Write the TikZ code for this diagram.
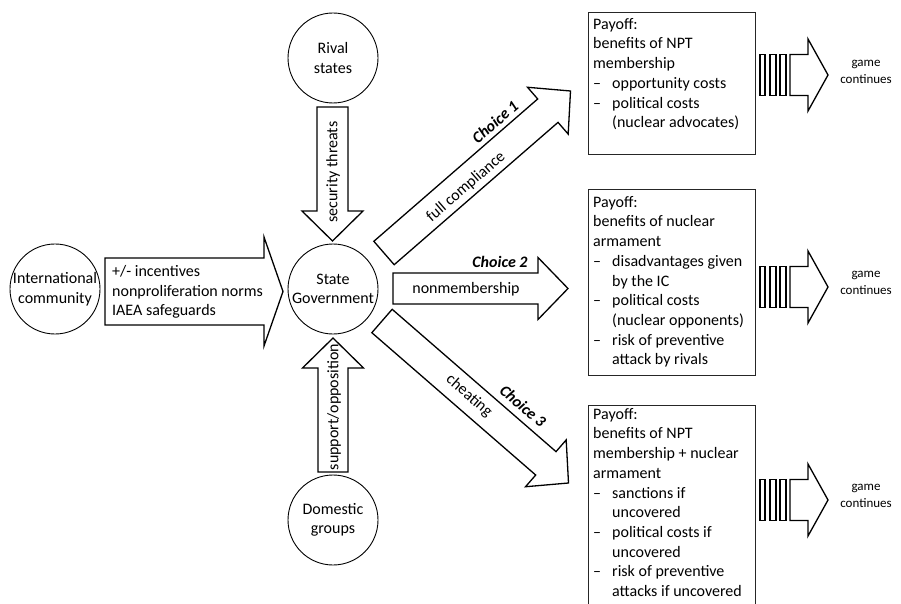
\documentclass[tikz,border=0pt]{standalone}
\usepackage{fontspec}
\setmainfont{Carlito}
\usetikzlibrary{calc}
\tikzset{
  circ/.style={circle, draw, line width=0.9pt, minimum size=90pt, inner sep=0pt, align=center, font=\fontsize{16}{19.5}\selectfont},
  barrow/.style={draw, line width=1.3pt, fill=white, line join=miter},
  bar/.style={draw, line width=1.1pt},
  lbl/.style={font=\fontsize{16}{19.5}\selectfont, inner sep=0pt},
  chc/.style={font=\fontsize{16}{19.5}\selectfont\bfseries\itshape, inner sep=0pt},
  boxline/.style={draw, line width=0.9pt, draw=black!85},
  boxtext/.style={font=\fontsize{16}{19.7}\selectfont, inner sep=0pt, align=left, anchor=north west},
  gc/.style={font=\fontsize{13}{17}\selectfont, inner sep=0pt, align=center},
}
\newcommand\blockarr[5]{%
  \coordinate (#1-#2-h) at ($(#2)!#5!(#1)$);
  \draw[barrow] ($(#1)!#3!90:(#2)$) -- ($(#1-#2-h)!#3!90:(#2)$) -- ($(#1-#2-h)!#4!90:(#2)$) -- (#2) -- ($(#1-#2-h)!#4!-90:(#2)$) -- ($(#1-#2-h)!#3!-90:(#2)$) -- ($(#1)!#3!-90:(#2)$) -- cycle;}
\newcommand\dsh{\makebox[19pt][l]{–}}
\newcommand\ind{\hspace*{19pt}}
\newcommand\striped[2]{% name, center y
  \draw[bar] (760,#2-20.5) rectangle (765,#2+20.5);
  \draw[bar] (770,#2-20.5) rectangle (776,#2+20.5);
  \draw[bar] (780,#2-20.5) rectangle (786,#2+20.5);
  \coordinate (#1t) at (790,#2);
  \coordinate (#1h) at (828,#2);
  \blockarr{#1t}{#1h}{20.5pt}{36pt}{20pt}}
\begin{document}
\begin{tikzpicture}[x=1pt, y=-1pt]
\useasboundingbox (0,0) rectangle (901,604);
\clip (0,0) rectangle (901,604);

% circles
\node[circ] (rival) at (333,58) {Rival\\states};
\node[circ] (sg) at (333,289) {State\\Government};
\node[circ] (dom) at (333,520) {Domestic\\groups};
\node[circ] (ic) at (55,289) {International\\community};

% block arrow: international community -> state
\coordinate (ict) at (105,291.5);
\coordinate (ich) at (283,291.5);
\blockarr{ict}{ich}{33.5pt}{54.5pt}{19pt}
\node[lbl, anchor=west, align=left] (ictext) at (112,292) {+/- incentives\\nonproliferation norms\\IAEA safeguards};

% rival -> state
\coordinate (rvt) at (332.5,107);
\coordinate (rvh) at (332.5,241);
\blockarr{rvt}{rvh}{15.5pt}{30.5pt}{30pt}
\node[lbl, rotate=90] (rvtext) at (333,172) {security threats};

% domestic -> state
\coordinate (dmt) at (333,472);
\coordinate (dmh) at (333,338);
\blockarr{dmt}{dmh}{15pt}{30.5pt}{30pt}
\node[lbl, rotate=90] (dmtext) at (334,407) {support/opposition};

% choice 1
\coordinate (c1t) at (384,253);
\coordinate (c1h) at (570.5,91);
\blockarr{c1t}{c1h}{15.5pt}{31pt}{30pt}
\node[lbl, rotate=41] (c1text) at (466,187) {full compliance};
\node[chc, rotate=41] (c1lab) at (495,122) {Choice 1};

% choice 2
\coordinate (c2t) at (393,288.5);
\coordinate (c2h) at (568,288.5);
\blockarr{c2t}{c2h}{15.5pt}{31pt}{30pt}
\node[lbl] (c2text) at (466,289) {nonmembership};
\node[chc] (c2lab) at (500,262) {Choice 2};

% choice 3
\coordinate (c3t) at (382,321);
\coordinate (c3h) at (568.5,483);
\blockarr{c3t}{c3h}{15.5pt}{31pt}{30pt}
\node[lbl, rotate=-41] (c3text) at (469,396) {cheating};
\node[chc, rotate=-41] (c3lab) at (523,406) {Choice 3};

% payoff boxes
\draw[boxline] (588,12) rectangle (755,154);
\node[boxtext] (p1) at (593,18) {Payoff:\\benefits of NPT\\membership\\\dsh opportunity costs\\\dsh political costs\\\ind(nuclear advocates)};

\draw[boxline] (588,189) rectangle (755,375);
\node[boxtext] (p2) at (593,196) {Payoff:\\benefits of nuclear\\armament\\\dsh disadvantages given\\\ind by the IC\\\dsh political costs\\\ind(nuclear opponents)\\\dsh risk of preventive\\\ind attack by rivals};

\draw[boxline] (588,405) rectangle (755,625);
\node[boxtext] (p3) at (593,408) {Payoff:\\benefits of NPT\\membership + nuclear\\armament\\\dsh sanctions if\\\ind uncovered\\\dsh political costs if\\\ind uncovered\\\dsh risk of preventive\\\ind attacks if uncovered};

% striped arrows
\striped{s1}{75}
\striped{s2}{287}
\striped{s3}{500}
\node[gc] (g1) at (866,72) {game\\continues};
\node[gc] (g2) at (866,283) {game\\continues};
\node[gc] (g3) at (866,496) {game\\continues};
\end{tikzpicture}
\end{document}
